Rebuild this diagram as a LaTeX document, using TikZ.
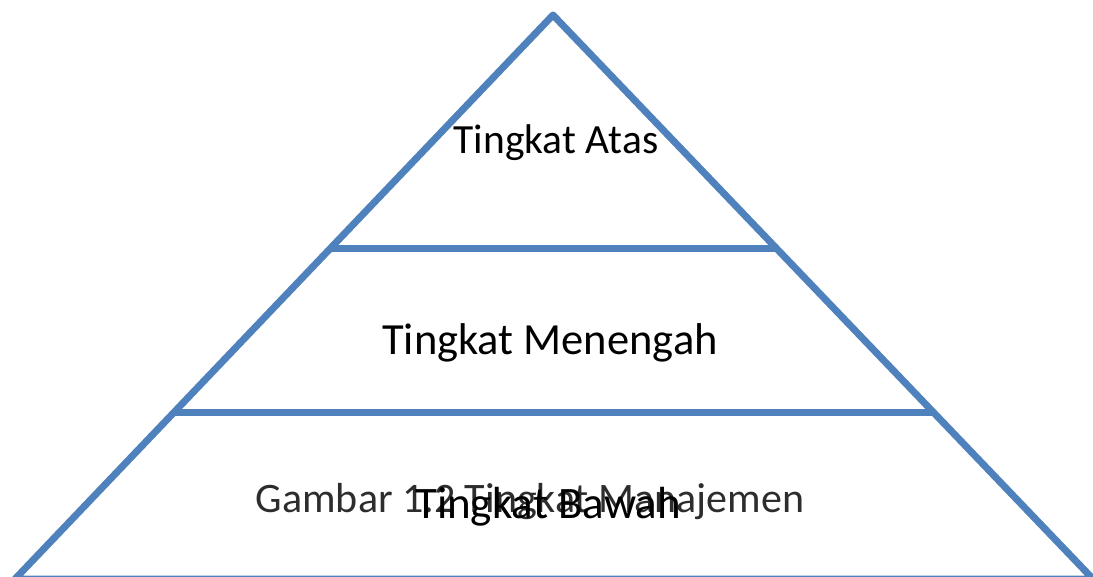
\documentclass[tikz,border=0pt]{standalone}
\usepackage{fontspec}
\setmainfont{Carlito}
\definecolor{pyr}{RGB}{79,129,189}
\definecolor{cap}{RGB}{45,45,45}
\begin{document}
\begin{tikzpicture}[x=1pt,y=-1pt,
  edge/.style={draw=pyr,line width=7pt,line join=round},
  lbl/.style={inner sep=0pt,anchor=base}]
\useasboundingbox (0,0) rectangle (1093,576);
\clip (0,0) rectangle (1093,576);
\coordinate (apex) at (553,15);
\coordinate (bl) at (15,579);
\coordinate (br) at (1093,579);
\coordinate (l1) at (330,248);
\coordinate (r1) at (778,248);
\coordinate (l2) at (172,412);
\coordinate (r2) at (935,412);
\draw[edge] (bl) -- (apex) -- (br) -- cycle;
\draw[edge] (l1) -- (r1);
\draw[edge] (l2) -- (r2);
\node[lbl,font=\fontsize{41.5}{50}\selectfont] (atas) at (556,153) {Tingkat Atas};
\node[lbl,font=\fontsize{44.5}{53}\selectfont] (mid) at (550,354) {Tingkat Menengah};
\node[lbl,text=cap,font=\fontsize{42}{50}\selectfont] (cap) at (530,512) {Gambar 1.2 Tingkat Manajemen};
\node[lbl,font=\fontsize{45}{54}\selectfont] (bawah) at (548,518) {Tingkat Bawah};
\end{tikzpicture}
\end{document}
